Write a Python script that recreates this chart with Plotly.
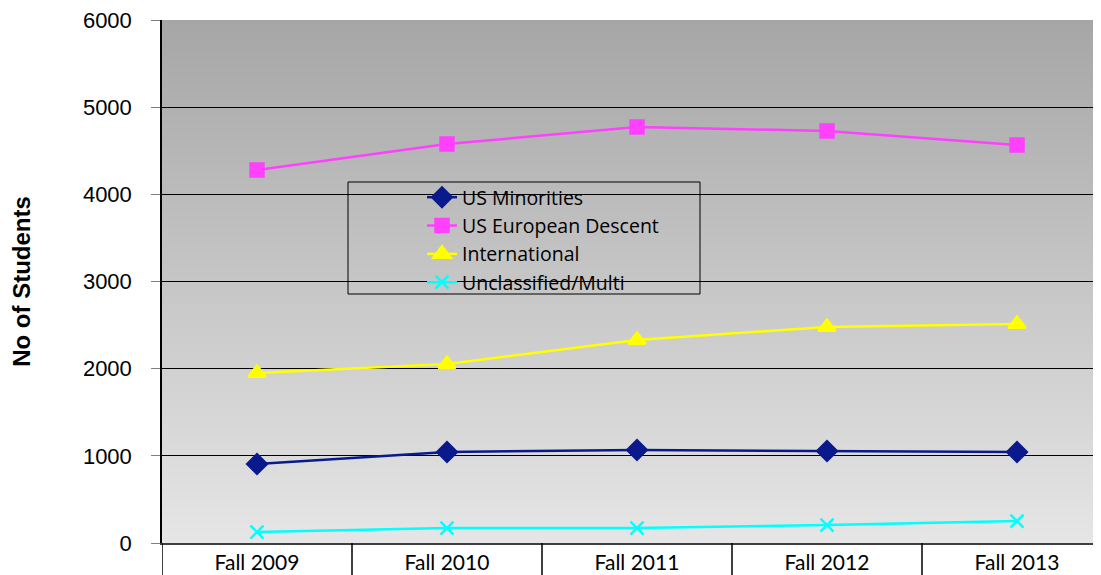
import base64
import struct
import zlib

import plotly.graph_objects as go

terms = ["Fall 2009", "Fall 2010", "Fall 2011", "Fall 2012", "Fall 2013"]
us_minorities = [906, 1044, 1067, 1055, 1044]
us_european = [4279, 4577, 4772, 4727, 4566]
international = [1950, 2053, 2329, 2478, 2512]
unclassified = [126, 172, 172, 206, 252]

series = [
    ("US Minorities", us_minorities, "#0A1A8C", "diamond", 15),
    ("US European Descent", us_european, "#FF40FF", "square", 13),
    ("International", international, "#FFFF00", "triangle-up", 15),
    ("Unclassified/Multi", unclassified, "#00FFFF", "x-thin", 13),
]


def gradient_png(top, bot, rows=256):
    # 1 px wide grayscale png, dark at top -> light at bottom
    raw = b"".join(b"\x00" + bytes([int(round(top + (bot - top) * r / (rows - 1)))])
                   for r in range(rows))

    def chunk(tag, data):
        c = struct.pack(">I", len(data)) + tag + data
        return c + struct.pack(">I", zlib.crc32(tag + data) & 0xFFFFFFFF)

    png = b"\x89PNG\r\n\x1a\n"
    png += chunk(b"IHDR", struct.pack(">IIBBBBB", 1, rows, 8, 0, 0, 0, 0))
    png += chunk(b"IDAT", zlib.compress(raw))
    png += chunk(b"IEND", b"")
    return "data:image/png;base64," + base64.b64encode(png).decode()


fig = go.Figure()
for name, vals, col, sym, sz in series:
    mk = dict(symbol=sym, size=sz, color=col, line=dict(color=col, width=2.5))
    fig.add_trace(go.Scatter(x=terms, y=vals, name=name, mode="lines+markers",
                             line=dict(color=col, width=2.5), marker=mk,
                             legendgroup=name))

fig.add_layout_image(dict(source=gradient_png(166, 230), xref="paper", yref="paper",
                          x=0, y=1, sizex=1, sizey=1, sizing="stretch",
                          xanchor="left", yanchor="top", layer="below"))

# category separators below the axis
for i in range(len(terms)):
    fig.add_shape(type="line", xref="x", yref="paper", x0=i - 0.5, x1=i - 0.5,
                  y0=0, y1=-0.064, line=dict(color="black", width=1.5))

# legend frame
fig.add_shape(type="rect", xref="paper", yref="paper",
              x0=(348 - 162) / 939, x1=(700 - 162) / 939,
              y0=(543 - 294) / 523, y1=(543 - 182) / 523,
              line=dict(color="black", width=1), fillcolor="rgba(0,0,0,0)")

# page body has an 8px margin, so the figure is shrunk and shifted by that
fig.update_layout(
    width=1093, height=567,
    margin=dict(l=154, r=0, t=12, b=32, autoexpand=False),
    paper_bgcolor="white",
    plot_bgcolor="rgba(0,0,0,0)",
    showlegend=True,
    legend=dict(x=(422 - 162) / 939, y=(543 - 178) / 523, xanchor="left", yanchor="top",
                bgcolor="rgba(0,0,0,0)", borderwidth=0, tracegroupgap=0,
                font=dict(family="Open Sans", size=19.5, color="black")),
    font=dict(family="Liberation Sans", color="black"),
)

fig.update_xaxes(type="category", range=[-0.5, 4.5 - 11 / 190], automargin=False,
                 showgrid=False, ticks="", showline=True, linecolor="#404040", linewidth=2,
                 tickfont=dict(family="Lato", size=21, color="black"))
fig.update_yaxes(range=[0, 6000], dtick=1000, showgrid=True, gridcolor="black", gridwidth=1,
                 showline=True, linecolor="black", linewidth=1.5, zeroline=False,
                 automargin=False,
                 ticks="outside", ticklen=9, tickcolor="#808080", ticklabelstandoff=15,
                 ticklabeloverflow="allow",
                 tickfont=dict(family="Liberation Sans", size=22, color="black"),
                 title=dict(text="<b>No of Students</b>", standoff=53,
                            font=dict(family="Liberation Sans", size=24, color="black")))

fig.write_html("out.html")
